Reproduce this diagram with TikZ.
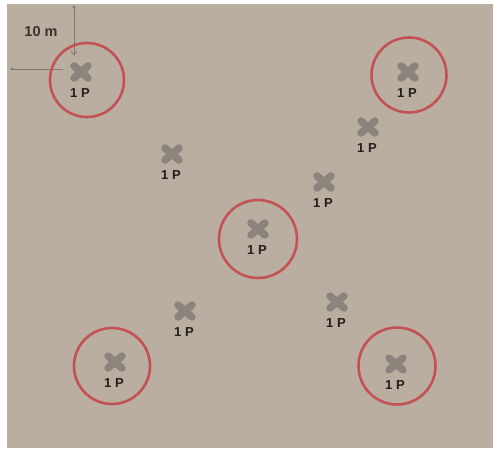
\documentclass[tikz,border=0pt]{standalone}
\usepackage{fontspec}
\setsansfont{Liberation Sans}
\usetikzlibrary{calc}
\definecolor{bg}{RGB}{186,174,160}
\definecolor{xgray}{RGB}{138,132,125}
\definecolor{ring}{RGB}{196,82,84}
\definecolor{txt}{RGB}{34,30,26}
\definecolor{axis}{RGB}{128,122,114}
\newcommand{\mycross}[3]{%
  \coordinate (#1) at (#2,#3);
  \draw[xgray, line width=7.5pt, line cap=round] ($(#1)+(-7,-6)$) -- ($(#1)+(7,6)$);
  \draw[xgray, line width=7.5pt, line cap=round] ($(#1)+(-7,6)$) -- ($(#1)+(7,-6)$);
  \node[lbl] (#1l) at ($(#1)+(-1,21)$) {1 P};
}
\begin{document}
\begin{tikzpicture}[x=1pt,y=-1pt,
  lbl/.style={font=\sffamily\bfseries\fontsize{13}{13}\selectfont, text=txt, inner sep=0pt},
  ringc/.style={draw=ring, line width=2.6pt},
  axl/.style={draw=axis, line width=0.8pt}]
\useasboundingbox (0,0) rectangle (493,448);
\fill[white] (0,0) rectangle (493,448);
\fill[bg] (7,4) rectangle (493,448);
% axes
\coordinate (vt) at (74,7);
\coordinate (vb) at (74,55);
\coordinate (hl) at (12,69);
\coordinate (hr) at (63,69);
\draw[axl] (vt) -- (vb);
\draw[axl] (hl) -- (hr);
\fill[axis] (vt) circle (1.6);
\fill[axis] (hl) circle (1.6);
\draw[axis, line width=0.8pt] (71,51) -- (vb) -- (77,51);
\node[font=\sffamily\bfseries\fontsize{14.5}{14.5}\selectfont, text=txt!85!bg, inner sep=0pt] (dist) at (41,32) {10 m};
% crosses
\mycross{p1}{81}{72}
\mycross{p2}{408}{72}
\mycross{p3}{368}{127}
\mycross{p4}{172}{154}
\mycross{p5}{324}{182}
\mycross{p6}{258}{229}
\mycross{p7}{185}{311}
\mycross{p8}{337}{302}
\mycross{p9}{115}{362}
\mycross{p10}{396}{364}
% rings
\draw[ringc] (87,80) circle (37);
\draw[ringc] (409,75) circle (37.5);
\draw[ringc] (258,239) circle (39);
\draw[ringc] (112,366) circle (38);
\draw[ringc] (397,366) circle (38.5);
\end{tikzpicture}
\end{document}
